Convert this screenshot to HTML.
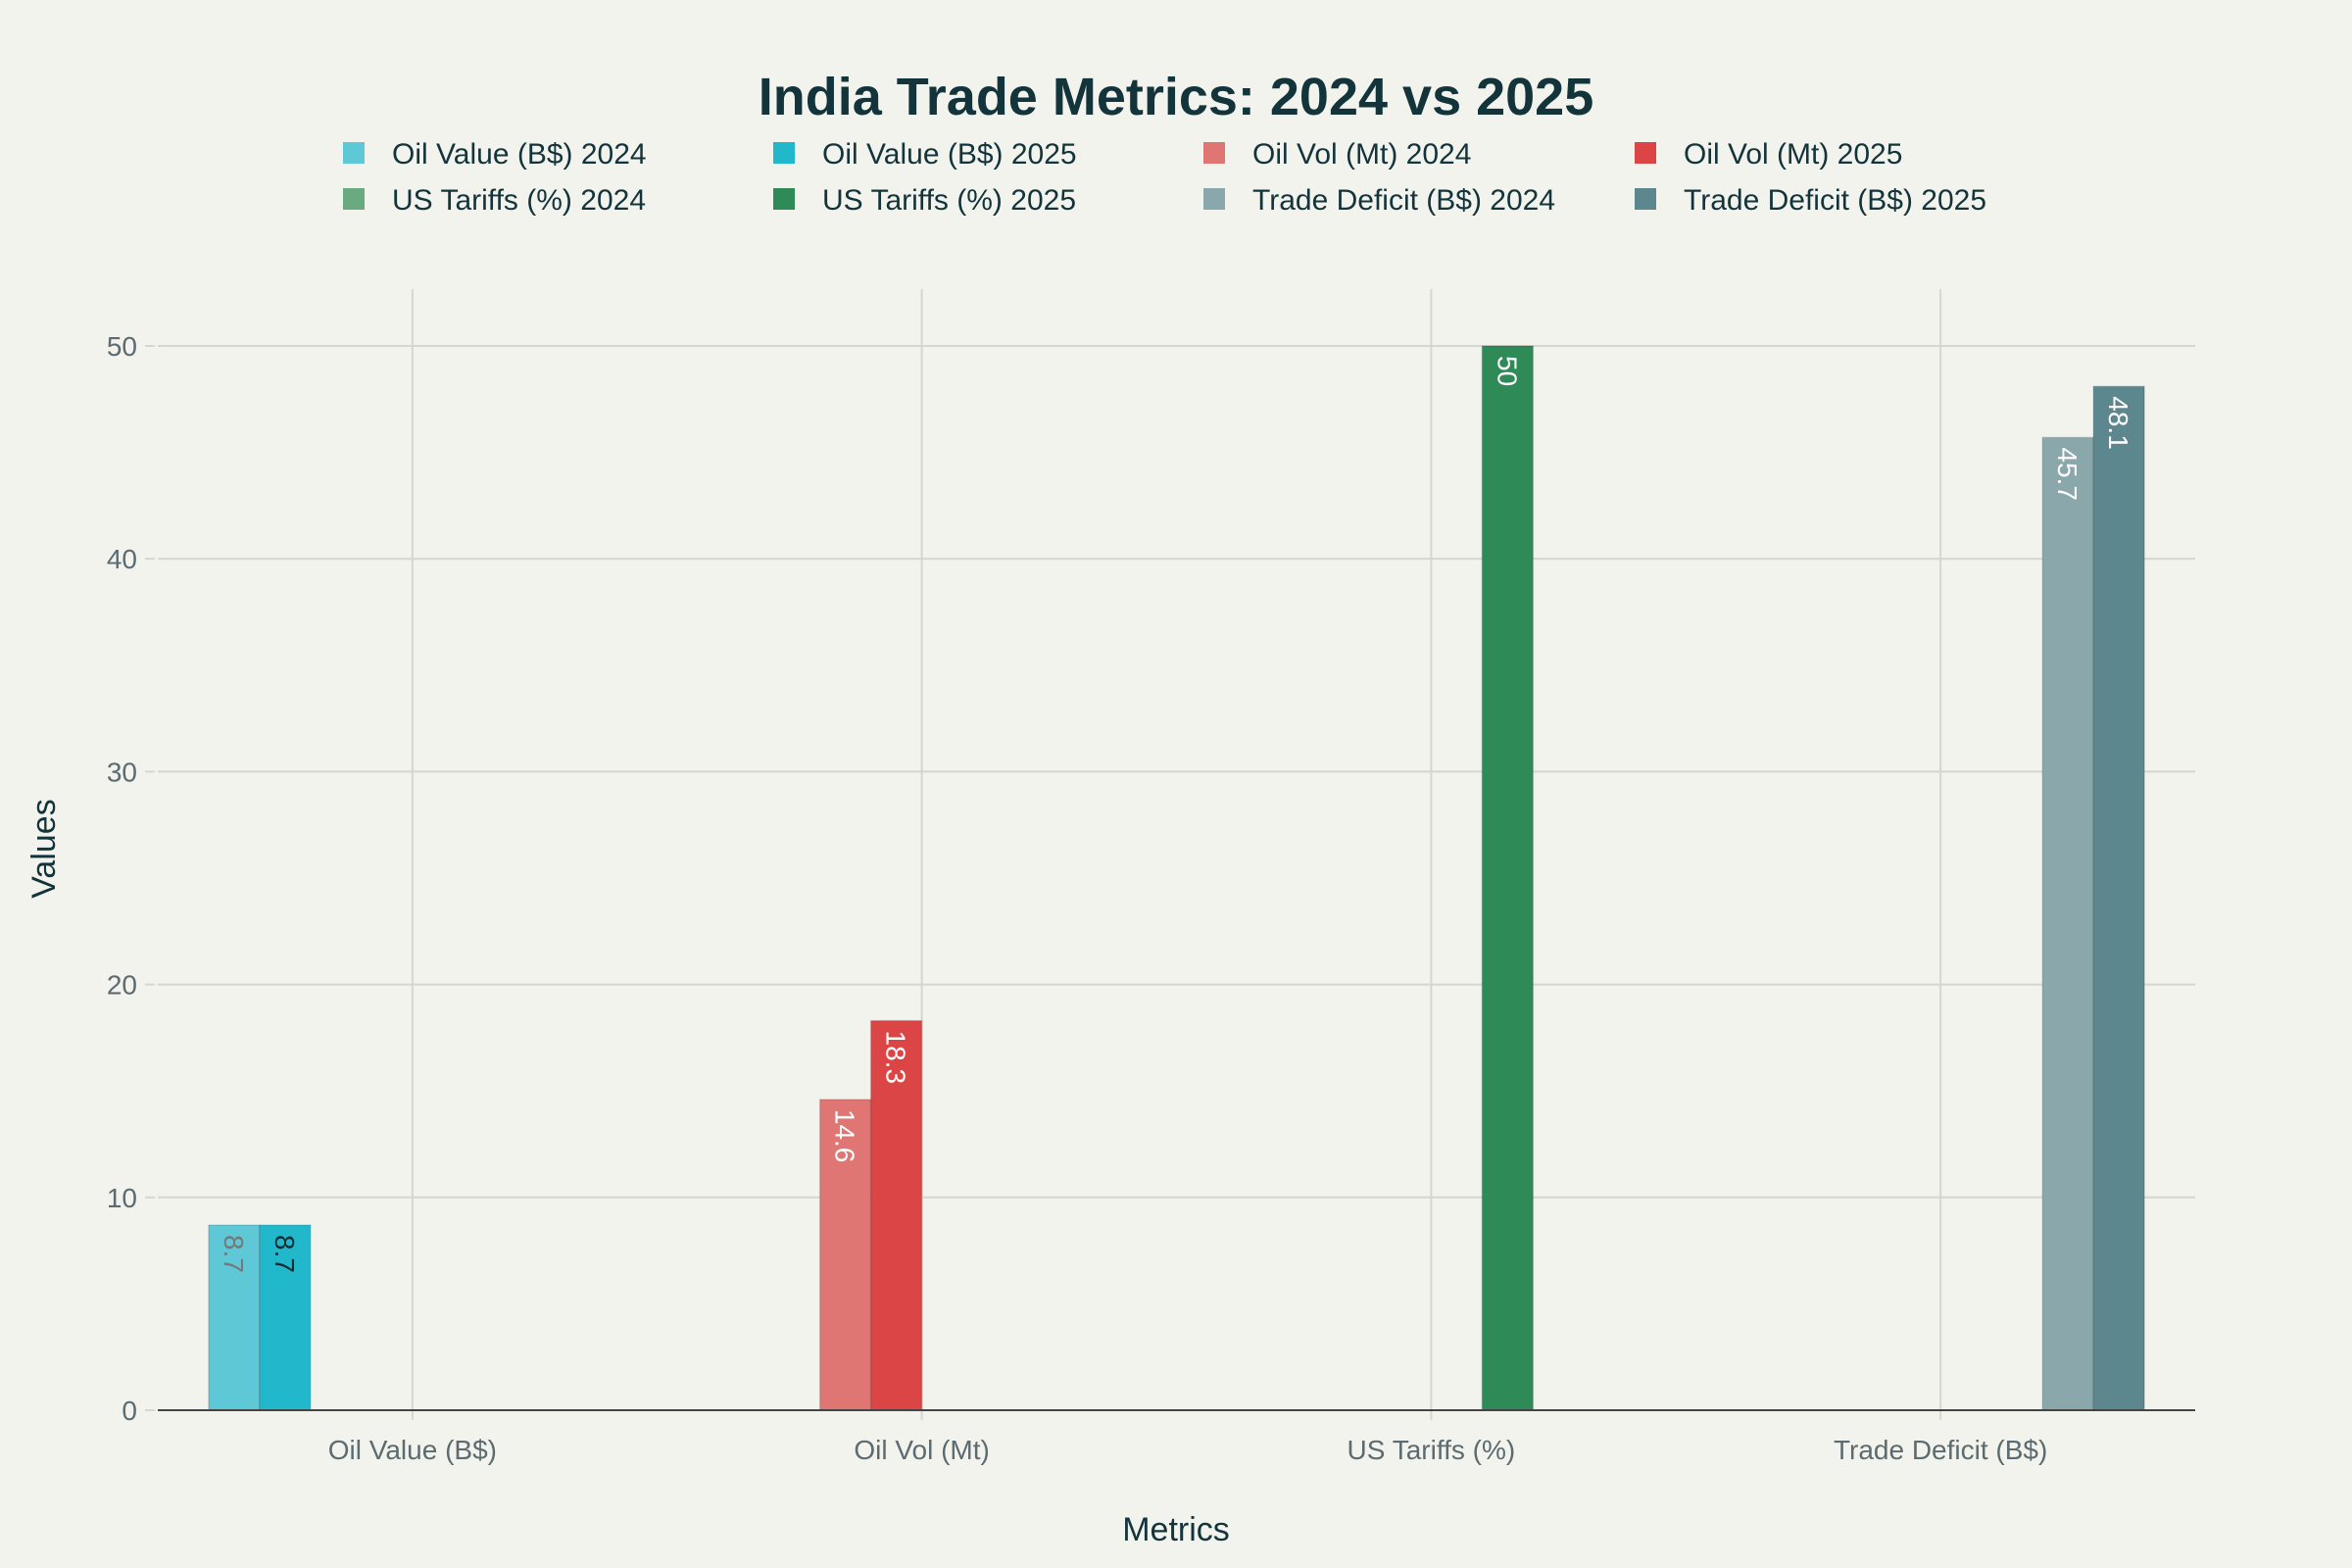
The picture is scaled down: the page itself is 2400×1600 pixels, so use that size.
<!DOCTYPE html>
<html><head><meta charset="utf-8"><style>
html,body{margin:0;padding:0;background:#f3f3ee;}
svg{display:block;font-family:"Liberation Sans",sans-serif;}
</style></head><body>
<svg id="chart" width="2400" height="1600" viewBox="0 0 2400 1600" xmlns="http://www.w3.org/2000/svg">
<rect x="0" y="0" width="2400" height="1600" fill="#f3f3ee"/>
<text x="1200" y="117" text-anchor="middle" font-size="54" font-weight="bold" fill="#13343b">India Trade Metrics: 2024 vs 2025</text>
<g id="grid"></g>
<g id="bars"></g>
<g id="axes"></g>
<g id="legend"></g>
<text x="1200" y="1572" text-anchor="middle" font-size="34" fill="#13343b">Metrics</text>
<text x="0" y="0" transform="translate(56,866) rotate(-90)" text-anchor="middle" font-size="34" fill="#13343b">Values</text>
</svg>
<script>
const categories = ["Oil Value (B$)", "Oil Vol (Mt)", "US Tariffs (%)", "Trade Deficit (B$)"];
const seriesNames = ["Oil Value (B$) 2024","Oil Value (B$) 2025","Oil Vol (Mt) 2024","Oil Vol (Mt) 2025","US Tariffs (%) 2024","US Tariffs (%) 2025","Trade Deficit (B$) 2024","Trade Deficit (B$) 2025"];
const seriesCategory = [0,0,1,1,2,2,3,3];
const seriesValues = [8.7, 8.7, 14.6, 18.3, null, 50, 45.7, 48.1];
const yTicks = [0,10,20,30,40,50];
const colors = ["#5fc8d6","#21b8cc","#e07674","#db4545","#6aaa80","#2e8b57","#8aa8ab","#5d878f"];
const labelColors = ["#777","#1a2a30","#fff","#fff","#fff","#fff","#fff","#fff"];

const NS = "http://www.w3.org/2000/svg";
const L = 161, R = 2240, T = 295, B = 1439, YMAX = 52.6;
const y = v => B - v / 50 * (B - 353);
const band = (R - L) / categories.length;
const xc = i => L + band * (i + 0.5);
const barW = 52;
const barX = s => xc(seriesCategory[s]) - barW * 4 + barW * s;
function el(tag, attrs, parent) { const e = document.createElementNS(NS, tag); for (const k in attrs) e.setAttribute(k, attrs[k]); parent.appendChild(e); return e; }
const grid = document.getElementById('grid'), bars = document.getElementById('bars'), axes = document.getElementById('axes'), legend = document.getElementById('legend');

yTicks.forEach(t => {
  if (t > 0) {
    const g = el('line', {x1:L, x2:R, y1:y(t), y2:y(t), stroke:'#d6d6d0', 'stroke-width':2}, grid);
    
    
  }
  const tk = el('line', {x1:148, x2:158, y1:y(t), y2:y(t), stroke:'#d6d6d0', 'stroke-width':2}, axes);
  
  
  const lb = el('text', {x:140, y:y(t)+10, 'text-anchor':'end', 'font-size':28, fill:'#5c6b70'}, axes);
  lb.textContent = t;
  
  
});
categories.forEach((c, i) => {
  const g = el('line', {x1:xc(i), x2:xc(i), y1:T, y2:B+10, stroke:'#d6d6d0', 'stroke-width':2}, grid);
  
  
  const lb = el('text', {x:xc(i), y:1489, 'text-anchor':'middle', 'font-size':28, fill:'#5c6b70'}, axes);
  lb.textContent = c;
  
  
});
seriesValues.forEach((v, s) => {
  if (v === null) return;
  const x = barX(s);
  const r = el('rect', {x:x, y:y(v), width:barW, height:B - y(v), fill:colors[s], stroke:'rgba(0,0,0,0.12)', 'stroke-width':1.5}, bars);
  
  
  const t = el('text', {x:0, y:0, transform:`translate(${x + barW/2 - 10},${y(v) + 10}) rotate(90)`, 'font-size':28, fill:labelColors[s]}, bars);
  t.textContent = v;
  
  
});
const ax = el('line', {x1:L, x2:R, y1:B, y2:B, stroke:'#444', 'stroke-width':2}, axes);



const colX = [350, 789, 1228, 1668];
seriesNames.forEach((n, s) => {
  const cx = colX[s % 4], cy = s < 4 ? 157 : 204;
  const sw = el('rect', {x:cx, y:cy-12, width:22, height:22, fill:colors[s]}, legend);
  
  
  const t = el('text', {x:cx + 50, y:cy + 10, 'font-size':30, fill:'#13343b'}, legend);
  t.textContent = n;
  
  
});
</script>
</body></html>
